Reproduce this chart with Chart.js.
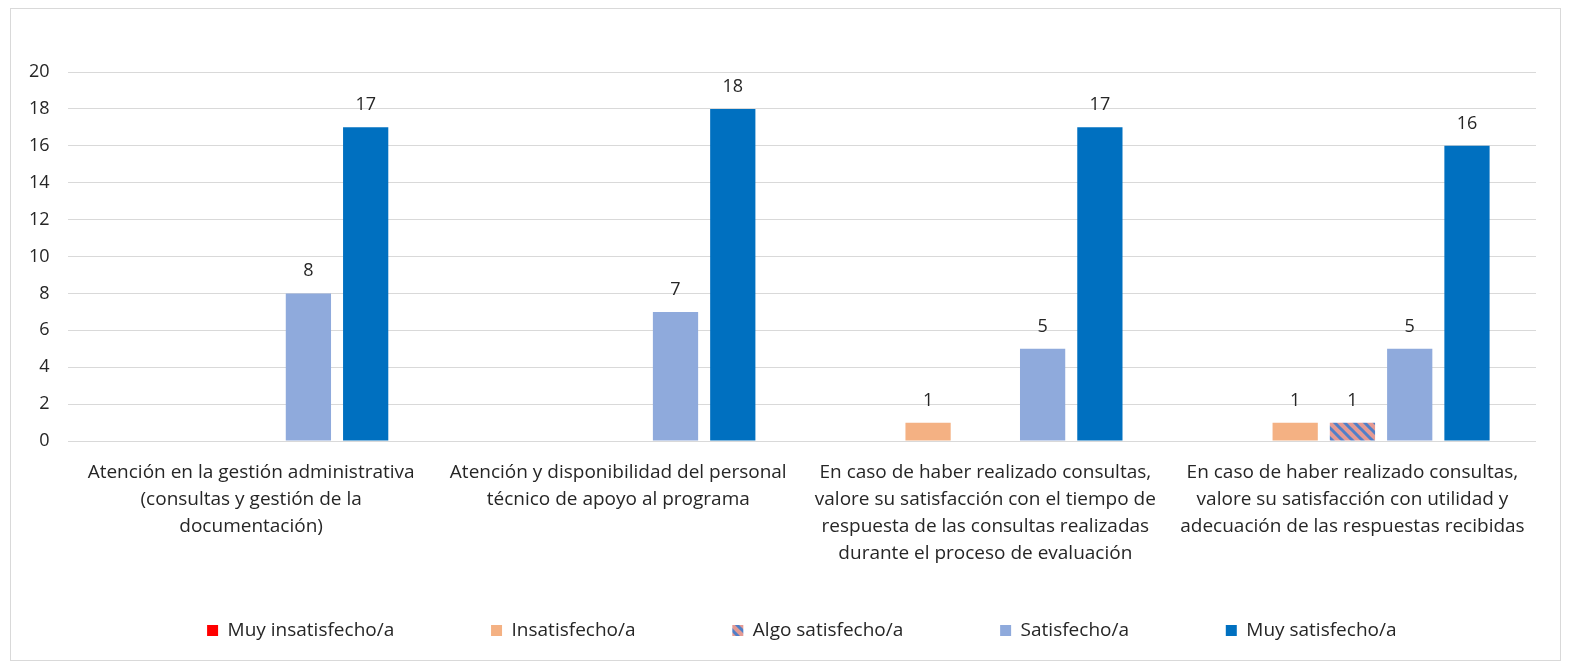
<!DOCTYPE html>
<html lang="es">
<head>
  <meta charset="UTF-8">
  <title>Satisfacción</title>
  <script src="https://cdn.jsdelivr.net/npm/chart.js"></script>
  <style>
    body { margin: 0; background: #fff; }
    #marco {
      position: absolute;
      left: 10px; top: 8px;
      width: 1549px; height: 651px;
      border: 1px solid #d9d9d9;
    }
  </style>
</head>
<body>
  <div id="marco"><canvas id="grafico"></canvas></div>

  <script>
    const categorias = [
      ['Atención en la gestión administrativa', '(consultas y gestión de la', 'documentación)'],
      ['Atención y disponibilidad del personal', 'técnico de apoyo al programa'],
      ['En caso de haber realizado consultas,', 'valore su satisfacción con el tiempo de', 'respuesta de las consultas realizadas', 'durante el proceso de evaluación'],
      ['En caso de haber realizado consultas,', 'valore su satisfacción con utilidad y', 'adecuación de las respuestas recibidas']
    ];
    const muyInsatisfecho = [0, 0, 0, 0];
    const insatisfecho = [0, 0, 1, 1];
    const algoSatisfecho = [0, 0, 0, 1];
    const satisfecho = [8, 7, 5, 5];
    const muySatisfecho = [17, 18, 17, 16];

    const fuente = '"Open Sans", sans-serif';

    // trama rayada para "Algo satisfecho/a"
    function rayado() {
      const c = document.createElement('canvas');
      c.width = 10; c.height = 10;
      const g = c.getContext('2d');
      g.fillStyle = '#e39a94';
      g.fillRect(0, 0, 10, 10);
      g.strokeStyle = '#4f7fc8';
      g.lineWidth = 3;
      g.beginPath();
      g.moveTo(-5, -5); g.lineTo(15, 15);
      g.moveTo(-5, 5); g.lineTo(5, 15);
      g.moveTo(5, -5); g.lineTo(15, 5);
      g.stroke();
      return g.createPattern(c, 'repeat');
    }

    const etiquetas = {
      id: 'etiquetas',
      afterDatasetsDraw(chart) {
        const ctx = chart.ctx;
        ctx.save();
        ctx.font = '18px ' + fuente;
        ctx.fillStyle = '#262626';
        ctx.textAlign = 'center';
        ctx.textBaseline = 'alphabetic';
        chart.data.datasets.forEach((ds, i) => {
          chart.getDatasetMeta(i).data.forEach((bar, j) => {
            const v = ds.data[j];
            if (v > 0) ctx.fillText(v, bar.x, bar.y - 17);
          });
        });
        ctx.restore();
      }
    };

    const ctx = document.getElementById('grafico').getContext('2d');
    new Chart(ctx, {
      type: 'bar',
      data: {
        labels: categorias,
        datasets: [
          { label: 'Muy insatisfecho/a', data: muyInsatisfecho, backgroundColor: '#ff0000' },
          { label: 'Insatisfecho/a', data: insatisfecho, backgroundColor: '#f4b183' },
          { label: 'Algo satisfecho/a', data: algoSatisfecho, backgroundColor: rayado() },
          { label: 'Satisfecho/a', data: satisfecho, backgroundColor: '#8faadc' },
          { label: 'Muy satisfecho/a', data: muySatisfecho, backgroundColor: '#0070c0' }
        ]
      },
      options: {
        responsive: true,
        maintainAspectRatio: false,
        animation: false,
        categoryPercentage: 0.78,
        barPercentage: 0.79,
        layout: { padding: { top: 63, left: 0, right: 24, bottom: 10 } },
        scales: {
          x: {
            grid: { display: false },
            border: { display: false },
            ticks: {
              color: '#262626',
              maxRotation: 0,
              autoSkip: false,
              padding: 10,
              font: { family: fuente, size: 19, lineHeight: 1.42 }
            }
          },
          y: {
            min: 0,
            max: 20,
            grid: { color: '#d9d9d9', drawTicks: false },
            border: { display: false },
            ticks: {
              stepSize: 2,
              padding: 18,
              color: '#262626',
              font: { family: fuente, size: 18 }
            }
          }
        },
        plugins: {
          legend: {
            position: 'bottom',
            fullSize: false,
            labels: {
              boxWidth: 11,
              boxHeight: 11,
              padding: 44,
              color: '#262626',
              font: { family: fuente, size: 19 },
              // separación amplia entre elementos
              generateLabels(chart) {
                const items = Chart.defaults.plugins.legend.labels.generateLabels(chart);
                items.forEach((it, i) => {
                  if (i < items.length - 1) it.text += '\u2003\u2003\u00a0\u00a0\u00a0';
                });
                return items;
              }
            }
          },
          tooltip: { enabled: false }
        }
      },
      plugins: [etiquetas]
    });
  </script>
</body>
</html>
